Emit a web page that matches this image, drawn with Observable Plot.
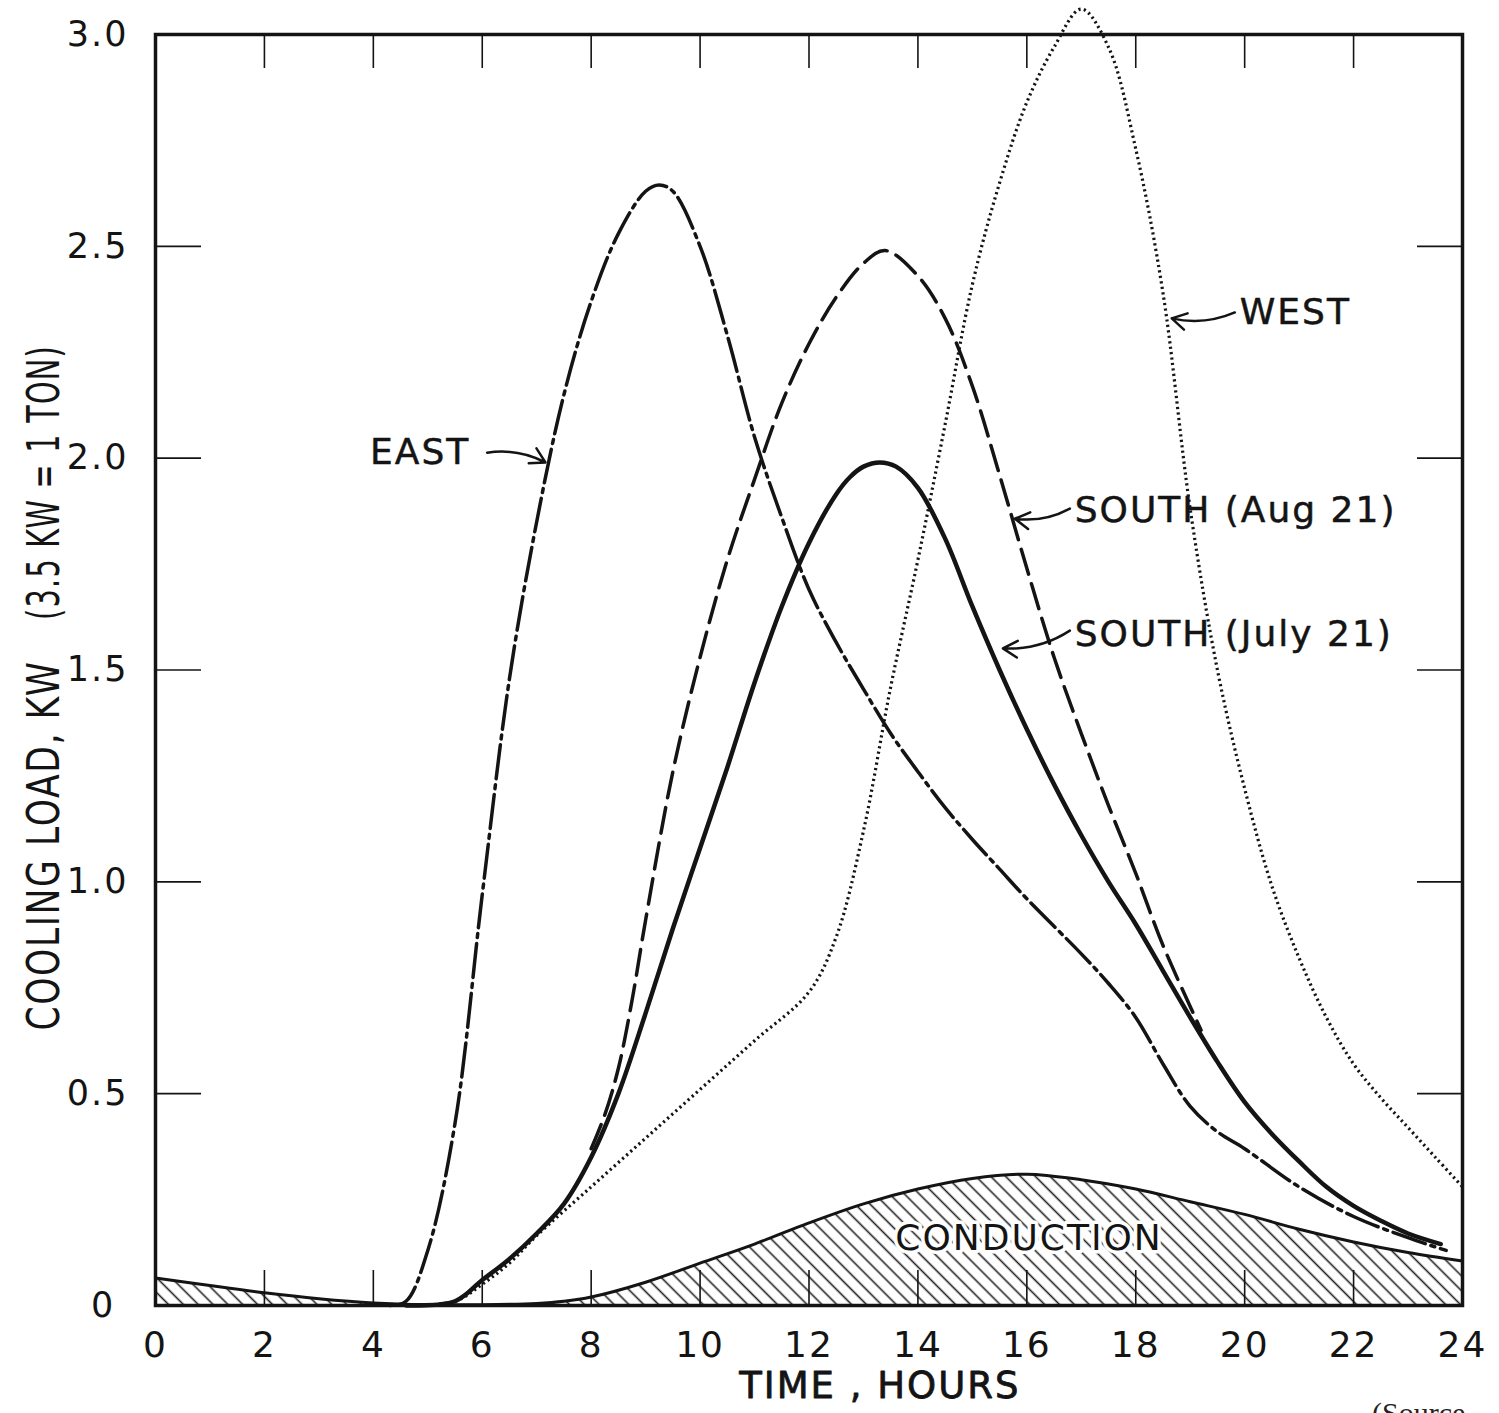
<!DOCTYPE html>
<html><head><meta charset="utf-8">
<script src="https://cdn.jsdelivr.net/npm/d3@7"></script>
<script src="https://cdn.jsdelivr.net/npm/@observablehq/plot@0.6"></script>
<style>
html,body{margin:0;padding:0;background:#fff;overflow:hidden;}
#chart{position:relative;width:1499px;height:1413px;}
#src{position:absolute;left:1372px;top:1396px;font:30px "Liberation Serif",serif;color:#222;}
</style></head><body><div id="chart"></div><div id="src">(Source</div>
<script>
// ---- data (hours, cooling load kW) ----
const eastHour = [4.3,4.6,5,5.5,6,6.5,7,7.5,8,8.5,9,9.25,9.5,10,10.5,11,11.5,12,12.5,13,13.5,14,14.5,15,15.5,16,17,17.5,18,18.5,19,19.5,20,21,22,23,23.7];
const eastLoad = [0,0.01,0.13,0.43,0.97,1.48,1.85,2.15,2.37,2.53,2.63,2.645,2.63,2.5,2.29,2.05,1.86,1.69,1.565,1.455,1.35,1.26,1.175,1.10,1.03,0.96,0.83,0.76,0.68,0.57,0.47,0.41,0.37,0.28,0.21,0.16,0.13];

const augHour = [8,8.25,8.5,8.75,9,9.5,10,10.5,11,11.5,12,12.5,13,13.4,14,14.5,15,15.5,16,16.5,17,17.5,18,18.5,19.2];
const augLoad = [0.37,0.45,0.56,0.72,0.91,1.26,1.53,1.76,1.95,2.13,2.27,2.38,2.46,2.49,2.43,2.33,2.17,1.96,1.74,1.53,1.35,1.18,1.02,0.85,0.65];

const julyHour = [4.6,5.5,6,6.5,7,7.5,8,8.5,9,9.5,10,10.5,11,11.5,12,12.5,12.75,13,13.3,13.6,14,14.5,15,15.5,16,16.5,17,17.5,18,18.5,19,19.5,20,20.5,21,21.5,22,22.5,23,23.6];
const julyLoad = [0,0.01,0.06,0.11,0.17,0.24,0.35,0.50,0.69,0.89,1.08,1.27,1.47,1.65,1.80,1.915,1.955,1.98,1.99,1.98,1.93,1.81,1.65,1.50,1.36,1.23,1.11,1.00,0.90,0.79,0.68,0.575,0.48,0.405,0.34,0.28,0.235,0.20,0.17,0.145];

const westHour = [4.6,5.5,6,6.5,7,8,9,10,11,12,12.5,13,13.5,14,14.5,15,15.5,16,16.5,17,17.5,18,18.5,19,19.5,20,20.5,21,21.5,22,22.5,23,23.5,24];
const westLoad = [0,0.01,0.05,0.10,0.165,0.28,0.395,0.51,0.625,0.74,0.87,1.12,1.46,1.76,2.08,2.41,2.65,2.84,2.97,3.06,2.97,2.73,2.39,1.88,1.50,1.22,0.99,0.82,0.68,0.57,0.49,0.42,0.35,0.28];

const condHour = [0,1,2,3,4,5,6,7,7.5,8,9,10,11,12,13,14,15,16,17,18,19,20,21,22,23,24];
const condLoad = [0.065,0.047,0.03,0.016,0.006,0.002,0.002,0.005,0.01,0.02,0.055,0.10,0.145,0.195,0.24,0.275,0.30,0.31,0.297,0.275,0.245,0.215,0.18,0.15,0.125,0.105];

const xTicks = [0,2,4,6,8,10,12,14,16,18,20,22,24];
const xInner = [2,4,6,8,10,12,14,16,18,20,22];
const yTicks = [0,0.5,1.0,1.5,2.0,2.5,3.0];
const yInner = [0.5,1.0,1.5,2.0,2.5];

const labelText = ["EAST","WEST","SOUTH (Aug 21)","SOUTH (July 21)"];
const labelHour = [3.94,19.91,16.88,16.88];
const labelLoad = [2.013,2.344,1.876,1.584];
const leaderFromHour = [6.09,19.82,16.79,16.79];
const leaderFromLoad = [2.013,2.344,1.881,1.593];
const leaderToHour = [7.16,18.66,15.78,15.56];
const leaderToLoad = [1.99,2.33,1.857,1.551];
const condLabel = "CONDUCTION";
const condLabelHour = 16.04, condLabelLoad = 0.158;
const xTitle = "TIME , HOURS";
const xTitleHour = 13.3;
const yTitleMain = "COOLING LOAD, KW";
const yTitleNote = "(3.5 KW = 1 TON)";

// ---- build ----
const rows = (H, L) => H.map((h, i) => ({hour: h, load: L[i]}));
const east = rows(eastHour, eastLoad), aug = rows(augHour, augLoad), july = rows(julyHour, julyLoad),
      west = rows(westHour, westLoad), cond = rows(condHour, condLoad);
const labels = labelText.map((t, i) => ({t, x: labelHour[i], y: labelLoad[i]}));
const leaders = leaderFromHour.map((h, i) => ({x1: h, y1: leaderFromLoad[i], x2: leaderToHour[i], y2: leaderToLoad[i]}));

const W = 1499, H = 1413, mL = 155, mR = 37, mT = 34, mB = 108;
const pw = W - mL - mR, ph = H - mT - mB;
const midY = mT + ph / 2;
const ink = "#141414";
const FONT = "DejaVu Sans, sans-serif";

const svg = Plot.plot({
  width: W, height: H, marginLeft: mL, marginRight: mR, marginTop: mT, marginBottom: mB,
  style: {fontFamily: FONT, background: "#fff", color: ink, letterSpacing: "2px"},
  x: {domain: [0, 24], axis: null},
  y: {domain: [0, 3], axis: null},
  marks: [
    Plot.areaY(cond, {x: "hour", y: "load", curve: "catmull-rom", fill: "url(#hatch)"}),
    Plot.line(cond, {x: "hour", y: "load", curve: "catmull-rom", stroke: ink, strokeWidth: 3}),
    Plot.line(west, {x: "hour", y: "load", curve: "catmull-rom", stroke: ink, strokeWidth: 3.2, strokeDasharray: "2.2,3.3", strokeLinecap: "butt"}),
    Plot.line(east, {x: "hour", y: "load", curve: "catmull-rom", stroke: ink, strokeWidth: 3.5, strokeDasharray: "34,6,4,6"}),
    Plot.line(aug, {x: "hour", y: "load", curve: "catmull-rom", stroke: ink, strokeWidth: 3.5, strokeDasharray: "26,10"}),
    Plot.line(july, {x: "hour", y: "load", curve: "catmull-rom", stroke: ink, strokeWidth: 4.5}),
    Plot.frame({stroke: ink, strokeWidth: 3.5}),
    Plot.tickX(xInner, {x: d => d, insetTop: ph - 35, stroke: ink, strokeWidth: 1.6}),
    Plot.tickX(xInner, {x: d => d, insetBottom: ph - 34, stroke: ink, strokeWidth: 1.6}),
    Plot.tickY(yInner, {y: d => d, insetRight: pw - 46, stroke: ink, strokeWidth: 1.6}),
    Plot.tickY(yInner, {y: d => d, insetLeft: pw - 45, stroke: ink, strokeWidth: 1.6}),
    Plot.axisX({ticks: xTicks, tickSize: 0, tickPadding: 26, fontSize: 36, label: null, tickFormat: d => String(d)}),
    Plot.axisY({ticks: yTicks, tickSize: 0, tickPadding: 27, fontSize: 35, label: null,
      tickFormat: d => d === 0 ? "0\u2008" : d.toFixed(1)}),
    Plot.text(labels, {x: "x", y: "y", text: "t", textAnchor: "start", fontSize: 36, fill: ink, stroke: ink, strokeWidth: 0.5}),
    Plot.arrow(leaders, {x1: "x1", y1: "y1", x2: "x2", y2: "y2", bend: 18, headLength: 10, strokeWidth: 2.5, stroke: ink}),
    Plot.text([condLabel], {x: () => condLabelHour, y: () => condLabelLoad, text: d => d, fontSize: 36, fill: ink}),
    Plot.text([xTitle], {x: () => xTitleHour, frameAnchor: "bottom", dy: 92, text: d => d, fontSize: 37, fill: ink, stroke: ink, strokeWidth: 0.8}),
    Plot.text([yTitleMain], {frameAnchor: "left", textAnchor: "middle", rotate: -90, dx: -111, dy: 845 - midY, text: d => d, fontSize: 44, fill: ink}),
    Plot.text([yTitleNote], {frameAnchor: "left", textAnchor: "middle", rotate: -90, dx: -111, dy: 482 - midY, text: d => d, fontSize: 44, fill: ink})
  ]
});

const s = d3.select(svg);
const defs = s.insert("defs", ":first-child");
const pat = defs.append("pattern").attr("id", "hatch").attr("patternUnits", "userSpaceOnUse")
  .attr("width", 10.5).attr("height", 10.5).attr("patternTransform", "rotate(-45)");
pat.append("rect").attr("width", 10.5).attr("height", 10.5).attr("fill", "#fff");
pat.append("line").attr("x1", 5.25).attr("y1", 0).attr("x2", 5.25).attr("y2", 10.5).attr("stroke", "#222").attr("stroke-width", 1.6);

const fitText = (str, len) => s.selectAll("text").filter(function() { return this.textContent === str; })
  .attr("textLength", len).attr("lengthAdjust", "spacingAndGlyphs");
fitText(yTitleMain, 370);
fitText(yTitleNote, 275);
// white halo behind the CONDUCTION label, as in the original drawing
s.selectAll("text").filter(function() { return this.textContent === condLabel; })
  .attr("stroke", "#fff").attr("stroke-width", 7).attr("paint-order", "stroke").attr("stroke-linejoin", "round");

document.getElementById("chart").appendChild(svg);
</script></body></html>
